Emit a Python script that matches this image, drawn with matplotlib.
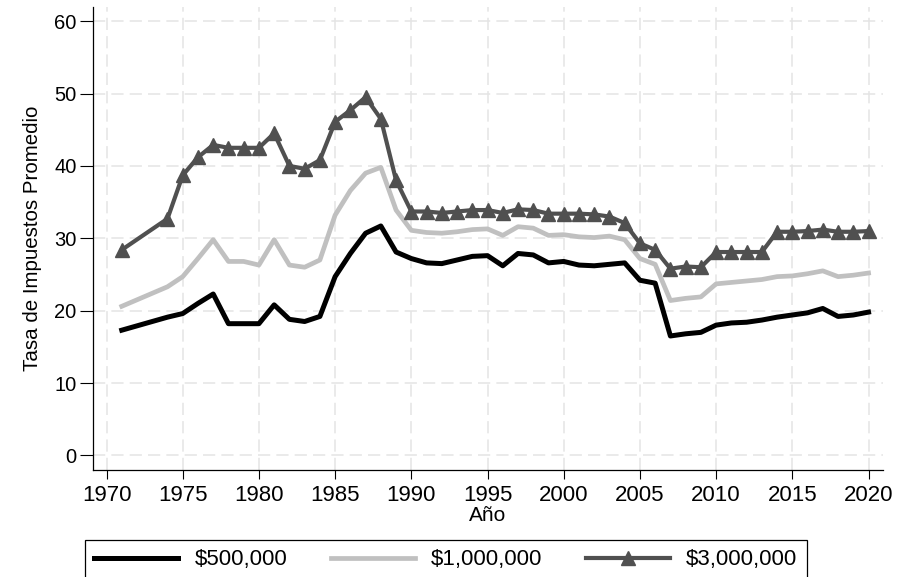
from matplotlib import pyplot as plt

plt.rcParams['font.family'] = ['Liberation Sans', 'DejaVu Sans']

# data (tasa de impuestos promedio, %)
years = [1971, 1974, 1975, 1976, 1977, 1978, 1979, 1980, 1981, 1982, 1983, 1984,
         1985, 1986, 1987, 1988, 1989, 1990, 1991, 1992, 1993, 1994, 1995, 1996,
         1997, 1998, 1999, 2000, 2001, 2002, 2003, 2004, 2005, 2006, 2007, 2008,
         2009, 2010, 2011, 2012, 2013, 2014, 2015, 2016, 2017, 2018, 2019, 2020]

tax_500k = [17.3, 19.1, 19.6, 21.0, 22.3, 18.2, 18.2, 18.2, 20.8, 18.8, 18.5, 19.2,
            24.7, 27.9, 30.7, 31.7, 28.1, 27.2, 26.6, 26.5, 27.0, 27.5, 27.6, 26.2,
            27.9, 27.7, 26.6, 26.8, 26.3, 26.2, 26.4, 26.6, 24.2, 23.8, 16.5, 16.8,
            17.0, 18.0, 18.3, 18.4, 18.7, 19.1, 19.4, 19.7, 20.3, 19.2, 19.4, 19.8]

tax_1m = [20.6, 23.3, 24.7, 27.2, 29.8, 26.8, 26.8, 26.3, 29.8, 26.3, 26.0, 27.0,
          33.2, 36.6, 39.0, 39.8, 33.9, 31.1, 30.8, 30.7, 30.9, 31.2, 31.3, 30.4,
          31.6, 31.4, 30.4, 30.5, 30.2, 30.1, 30.3, 29.8, 27.2, 26.4, 21.4, 21.7,
          21.9, 23.7, 23.9, 24.1, 24.3, 24.7, 24.8, 25.1, 25.5, 24.7, 24.9, 25.2]

tax_3m = [28.4, 32.7, 38.7, 41.2, 42.9, 42.5, 42.5, 42.5, 44.5, 40.0, 39.6, 40.8,
          46.1, 47.7, 49.5, 46.5, 38.0, 33.7, 33.7, 33.5, 33.7, 33.9, 33.9, 33.5,
          34.0, 33.9, 33.4, 33.4, 33.4, 33.3, 33.0, 32.1, 29.3, 28.4, 25.8, 26.1,
          26.0, 28.1, 28.1, 28.1, 28.1, 30.9, 30.9, 31.0, 31.2, 30.9, 30.9, 31.0]

series_labels = ['$500,000', '$1,000,000', '$3,000,000']
x_ticks = [1970, 1975, 1980, 1985, 1990, 1995, 2000, 2005, 2010, 2015, 2020]
y_ticks = [0, 10, 20, 30, 40, 50, 60]

W, H = 897, 577
fig = plt.figure(figsize=(W / 100, H / 100), dpi=100)
ax = fig.add_axes([92.5 / W, 1 - 469.5 / H, (882.7 - 92.5) / W, (469.5 - 6.7) / H])

ax.plot(years, tax_500k, color='black', lw=3.6, label=series_labels[0], zorder=3)
ax.plot(years, tax_1m, color='#c0c0c0', lw=3.4, label=series_labels[1], zorder=3)
ax.plot(years, tax_3m, color='#505050', lw=3.0, marker='^', markersize=10,
        markeredgecolor='#505050', label=series_labels[2], zorder=4)

ax.set_xlim(1969.08, 2020.93)
ax.set_ylim(-1.95, 62)
ax.set_xticks(x_ticks)
ax.set_yticks(y_ticks)

# stata-like look: only left/bottom axis, dashed light grid
ax.spines['top'].set_visible(False)
ax.spines['right'].set_visible(False)
for s in ['left', 'bottom']:
    ax.spines[s].set_linewidth(0.9)
ax.grid(True, color='#e4e4e4', lw=1.1, linestyle=(0, (8, 4)), zorder=0)
ax.set_axisbelow(True)

ax.tick_params(axis='both', direction='out', width=0.8, color='black')
ax.tick_params(axis='x', labelsize=16, pad=5, length=6.5)
ax.tick_params(axis='y', labelsize=14.5, pad=2, length=9.5)

ax.set_xlabel('Año', fontsize=15, labelpad=0)
ax.set_ylabel('Tasa de Impuestos Promedio', fontsize=14.8, labelpad=9)

leg = fig.legend(loc='upper left', bbox_to_anchor=(84.7 / W, 1 - 540 / H), ncol=3,
                 fontsize=16, frameon=True, fancybox=False, edgecolor='black',
                 framealpha=1, borderaxespad=0, borderpad=0.42, handlelength=3.8,
                 handletextpad=0.72, columnspacing=1.95)
leg.get_frame().set_linewidth(0.9)

plt.savefig('out.png', dpi=100)
